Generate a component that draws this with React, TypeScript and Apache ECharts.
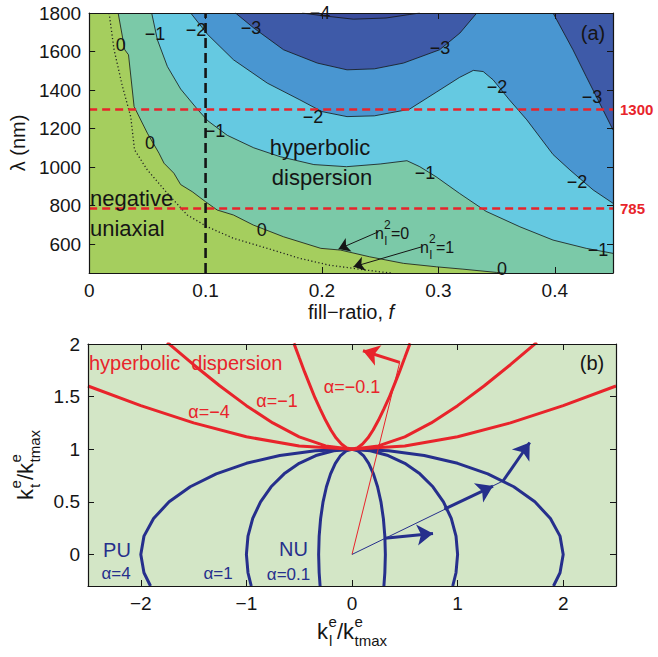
import { useEffect, useRef } from "react";
import * as echarts from "echarts";

const FONT = "'Liberation Sans', Arial, Helvetica, sans-serif";

// ---------- panel (a) ----------
const fillTicks = [0, 0.1, 0.2, 0.3, 0.4];
const lambdaTicks = [600, 800, 1000, 1200, 1400, 1600, 1800];
const markedLambdas = [1300, 785];
const markedFill = 0.1;

// contour lines [fill-ratio, lambda (nm)]
const contour0 = [[0.0249,1800],[0.0306,1609],[0.0338,1583],[0.0386,1314],[0.050,1176],[0.060,1072],[0.0643,1020],[0.0728,968],[0.0786,909],[0.0886,872],[0.100,820],[0.110,777],[0.124,751],[0.141,699],[0.167,638],[0.199,578],[0.216,569],[0.241,534],[0.270,500],[0.2985,482],[0.321,470],[0.350,453],[0.356,450]];
const contourN1 = [[0.0537,1800],[0.0586,1661],[0.0672,1522],[0.0786,1405],[0.093,1300],[0.102,1240],[0.1186,1165],[0.1414,1100],[0.164,1054],[0.193,1013],[0.221,1002],[0.25,1016],[0.273,1033],[0.284,1002],[0.298,950],[0.318,864],[0.341,770],[0.37,690],[0.3985,621],[0.427,578],[0.45,552]];
const contourN2 = [[0.0872,1800],[0.1015,1690],[0.124,1557],[0.153,1436],[0.181,1349],[0.2,1288],[0.2215,1262],[0.245,1266],[0.275,1300],[0.2985,1390],[0.318,1465],[0.33,1502],[0.3385,1496],[0.347,1453],[0.361,1349],[0.376,1245],[0.3985,1065],[0.413,985],[0.433,881],[0.45,812]];
const contourN3a = [[0.1257,1800],[0.1414,1722],[0.167,1609],[0.196,1540],[0.2215,1505],[0.245,1510],[0.27,1540],[0.301,1609],[0.3185,1696],[0.333,1800]];
const contourN3b = [[0.3985,1800],[0.4156,1609],[0.427,1470],[0.4385,1332],[0.45,1193]];
const contourN4 = [[0.183,1800],[0.2,1786],[0.227,1768],[0.255,1774],[0.275,1792],[0.284,1800]];
const indexOneLine = [[0.0171,1800],[0.0214,1609],[0.0286,1418],[0.0357,1262],[0.039,1089],[0.050,985],[0.0672,864],[0.0843,751],[0.1015,690],[0.124,630],[0.153,578],[0.181,526],[0.206,491],[0.227,474],[0.25,456],[0.26,450]];
const arrowN0 = [[0.2485,664],[0.2142,574]];
const arrowN1 = [[0.2857,586],[0.227,482]];

// ---------- panel (b) ----------
const klTicks = [-2, -1, 0, 1, 2];
const ktTicks = [0, 0.5, 1, 1.5, 2];
const ellipseA4 = [[1.908,-0.3],[1.970,-0.174],[2,0],[1.970,0.174],[1.879,0.342],[1.732,0.5],[1.532,0.643],[1.286,0.766],[1.0,0.866],[0.684,0.940],[0.347,0.985],[0,1],[-0.347,0.985],[-0.684,0.940],[-1.0,0.866],[-1.286,0.766],[-1.532,0.643],[-1.732,0.5],[-1.879,0.342],[-1.970,0.174],[-2,0],[-1.970,-0.174],[-1.908,-0.3]];
const ellipseA1 = [[0.954,-0.3],[0.985,-0.174],[1,0],[0.985,0.174],[0.940,0.342],[0.866,0.5],[0.766,0.643],[0.643,0.766],[0.5,0.866],[0.342,0.940],[0.174,0.985],[0,1],[-0.174,0.985],[-0.342,0.940],[-0.5,0.866],[-0.643,0.766],[-0.766,0.643],[-0.866,0.5],[-0.940,0.342],[-0.985,0.174],[-1,0],[-0.985,-0.174],[-0.954,-0.3]];
const ellipseA01 = [[0.302,-0.3],[0.311,-0.174],[0.316,0],[0.311,0.174],[0.297,0.342],[0.274,0.5],[0.242,0.643],[0.203,0.766],[0.158,0.866],[0.108,0.940],[0.055,0.985],[0,1],[-0.055,0.985],[-0.108,0.940],[-0.158,0.866],[-0.203,0.766],[-0.242,0.643],[-0.274,0.5],[-0.297,0.342],[-0.311,0.174],[-0.316,0],[-0.311,-0.174],[-0.302,-0.3]];
const hyperM01 = [[-0.55,2.006],[-0.5,1.871],[-0.45,1.737],[-0.4,1.612],[-0.35,1.487],[-0.3,1.378],[-0.25,1.275],[-0.2,1.183],[-0.15,1.106],[-0.1,1.049],[-0.05,1.012],[0,1],[0.05,1.012],[0.1,1.049],[0.15,1.106],[0.2,1.183],[0.25,1.275],[0.3,1.378],[0.35,1.487],[0.4,1.612],[0.45,1.737],[0.5,1.871],[0.55,2.006]];
const hyperM1 = [[-1.75,2.016],[-1.5,1.803],[-1.25,1.601],[-1,1.414],[-0.75,1.25],[-0.5,1.118],[-0.25,1.031],[0,1],[0.25,1.031],[0.5,1.118],[0.75,1.25],[1,1.414],[1.25,1.601],[1.5,1.803],[1.75,2.016]];
const hyperM4 = [[-2.5,1.601],[-2,1.414],[-1.5,1.25],[-1,1.118],[-0.5,1.031],[0,1],[0.5,1.031],[1,1.118],[1.5,1.25],[2,1.414],[2.5,1.601]];
const redRay = [[0,0],[0.452,1.826]];
const blueRay = [[0,0],[1.43,0.698]];
const redArrows = [[[0.452,1.826],[0.104,1.936]]];
const blueArrows = [[[0.31,0.154],[0.767,0.2]],[[0.875,0.43],[1.335,0.65]],[[1.43,0.698],[1.683,1.064]]];

const RED = "#e8242b";
const BLUE = "#262f8c";
const INK = "#151515";

const axisBase = (extra: any) => ({
  type: "value",
  z: 10,
  axisLine: { show: true, onZero: false, lineStyle: { color: INK, width: 1.2 } },
  splitLine: { show: false },
  ...extra,
});

const tickSet = (vals: number[], labels: boolean, fmt?: (v: number) => string) => ({
  axisTick: { show: true, inside: true, length: 6, customValues: vals, lineStyle: { color: INK, width: 1 } },
  axisLabel: labels
    ? { show: true, customValues: vals, fontSize: 19, fontFamily: FONT, color: INK, formatter: fmt || ((v: number) => String(v)) }
    : { show: false },
});

const txt = (x: number, y: number, text: string, o: any = {}) => ({
  type: "text", x, y, z: 100, silent: true,
  style: { text, fontSize: 18, fontFamily: FONT, fill: INK, align: "center", verticalAlign: "middle", ...o },
});

const stacked = (x: number, y: number, rotation: number, parts: any[], color = INK) => ({
  type: "group", x, y, rotation, z: 100, silent: true,
  children: parts.map((p) => ({
    type: "text", x: p[1], y: p[2], z: 100,
    style: { text: p[0], fontSize: p[3], fontFamily: FONT, fill: color, align: "left", verticalAlign: "middle" },
  })),
});

export default function App() {
  const ref = useRef<HTMLDivElement>(null);
  useEffect(() => {
    if (!ref.current) return;
    const chart = echarts.init(ref.current, null, { renderer: "svg" });

    const regions = [
      { pts: [...contour0, [0.45, 450], [0.45, 1800]], color: "#7bc9a8" },
      { pts: [...contourN1, [0.45, 1800]], color: "#65c9e1" },
      { pts: [...contourN2, [0.45, 1800]], color: "#4996d1" },
      { pts: contourN3a, color: "#3e5aa8" },
      { pts: [...contourN3b, [0.45, 1800]], color: "#3e5aa8" },
      { pts: contourN4, color: "#3a4c9c" },
    ];

    const contourLine = (d: number[][]) => ({
      type: "line", xAxisIndex: 0, yAxisIndex: 0, data: d, showSymbol: false, symbol: "none", silent: true,
      lineStyle: { color: INK, width: 0.8 }, z: 3,
    });
    const curve = (d: number[][], color: string) => ({
      type: "line", xAxisIndex: 2, yAxisIndex: 2, data: d, showSymbol: false, symbol: "none", silent: true,
      lineStyle: { color, width: 3 }, z: 3,
    });
    const thin = (d: number[][], color: string) => ({
      type: "line", xAxisIndex: 2, yAxisIndex: 2, data: d, showSymbol: false, symbol: "none", silent: true,
      lineStyle: { color, width: 1 }, z: 4,
    });
    const arrows = (list: number[][][], color: string, width: number, size: number, xi: number, yi: number) => ({
      type: "lines", coordinateSystem: "cartesian2d", xAxisIndex: xi, yAxisIndex: yi, silent: true, z: 5,
      symbol: ["none", "arrow"], symbolSize: size,
      lineStyle: { color, width, opacity: 1, curveness: 0 },
      data: list.map((c) => ({ coords: c })),
    });

    const option: any = {
      animation: false,
      grid: [
        { left: 88, top: 13, width: 525, height: 260, show: true, backgroundColor: "#a5ce5e", borderWidth: 0 },
        { left: 88, top: 344, width: 528, height: 242, show: true, backgroundColor: "#d3e6c6", borderWidth: 0 },
      ],
      xAxis: [
        axisBase({
          gridIndex: 0, min: 0, max: 0.45, position: "bottom",
          ...tickSet(fillTicks, true),
          name: "fill\u2212ratio, {i|f}", nameLocation: "middle", nameGap: 29,
          nameTextStyle: { fontSize: 20, fontFamily: FONT, color: INK, rich: { i: { fontSize: 20, fontFamily: FONT, fontStyle: "italic", color: INK } } },
        }),
        axisBase({ gridIndex: 0, min: 0, max: 0.45, position: "top", ...tickSet(fillTicks, false) }),
        axisBase({
          gridIndex: 1, min: -2.5, max: 2.5, position: "bottom",
          ...tickSet(klTicks, true, (v: number) => String(v).replace("-", "\u2212")),
        }),
        axisBase({ gridIndex: 1, min: -2.5, max: 2.5, position: "top", ...tickSet(klTicks, false) }),
      ],
      yAxis: [
        axisBase({
          gridIndex: 0, min: 450, max: 1800, position: "left",
          ...tickSet(lambdaTicks, true),
          name: "\u03bb (nm)", nameLocation: "middle", nameGap: 56,
          nameTextStyle: { fontSize: 20, fontFamily: FONT, color: INK },
        }),
        axisBase({ gridIndex: 0, min: 450, max: 1800, position: "right", ...tickSet(lambdaTicks, false) }),
        axisBase({ gridIndex: 1, min: -0.3, max: 2, position: "left", ...tickSet(ktTicks, true) }),
        axisBase({ gridIndex: 1, min: -0.3, max: 2, position: "right", ...tickSet(ktTicks, false) }),
      ],
      series: [
        {
          type: "custom", xAxisIndex: 0, yAxisIndex: 0, silent: true, clip: true, z: 2,
          data: regions.map((_, i) => [i]),
          renderItem: (params: any, api: any) => {
            const r = regions[params.dataIndex];
            return { type: "polygon", shape: { points: r.pts.map((p) => api.coord(p)) }, style: { fill: r.color, stroke: "none" } };
          },
        },
        contourLine(contour0),
        contourLine(contourN1),
        contourLine(contourN2),
        contourLine(contourN3a),
        contourLine(contourN3b),
        contourLine(contourN4),
        {
          type: "line", xAxisIndex: 0, yAxisIndex: 0, data: indexOneLine, showSymbol: false, symbol: "none", silent: true,
          lineStyle: { color: "#222", width: 1.3, type: [1.2, 2.4] }, z: 3,
        },
        {
          type: "line", xAxisIndex: 0, yAxisIndex: 0, silent: true, z: 6, showSymbol: false, symbol: "none",
          data: [[markedFill, 450], [markedFill, 1800]],
          lineStyle: { color: INK, width: 2.6, type: [10, 5] },
          markLine: {
            silent: true, symbol: ["none", "none"],
            lineStyle: { color: RED, width: 2.6, type: [8, 5] },
            label: {
              position: "end", distance: 7, formatter: (p: any) => String(p.value),
              color: RED, fontWeight: "bold", fontSize: 15, fontFamily: FONT,
            },
            data: markedLambdas.map((v) => ({ yAxis: v })),
          },
        },
        arrows([arrowN0, arrowN1], INK, 1, 11, 0, 0),
        curve(ellipseA4, BLUE),
        curve(ellipseA1, BLUE),
        curve(ellipseA01, BLUE),
        curve(hyperM4, RED),
        curve(hyperM1, RED),
        curve(hyperM01, RED),
        thin(redRay, RED),
        thin(blueRay, BLUE),
        arrows(redArrows, RED, 3, 16, 2, 2),
        arrows(blueArrows, BLUE, 3, 16, 2, 2),
      ],
      graphic: [
        // panel (a) contour labels
        txt(120.7, 45, "0"),
        txt(155, 34, "\u22121"),
        txt(196, 30, "\u22122"),
        txt(251, 28, "\u22123"),
        txt(320, 13, "\u22124"),
        txt(150, 143, "0"),
        txt(215, 131, "\u22121"),
        txt(261.7, 230, "0"),
        txt(313, 117, "\u22122"),
        txt(425, 173, "\u22121"),
        txt(440, 48, "\u22123"),
        txt(497, 87, "\u22122"),
        txt(592, 97, "\u22123"),
        txt(577, 182, "\u22122"),
        txt(598, 250, "\u22121"),
        txt(502, 269, "0"),
        txt(593, 33, "(a)", { fontSize: 20 }),
        txt(320, 147, "hyperbolic", { fontSize: 22 }),
        txt(322, 177, "dispersion", { fontSize: 22 }),
        txt(90, 198, "negative", { fontSize: 22, align: "left" }),
        txt(90, 228, "uniaxial", { fontSize: 22, align: "left" }),
        stacked(375, 233, 0, [["n", 0, 0, 16], ["2", 9, -8, 12], ["l", 9.5, 8, 12], ["=0", 16, 0, 16]]),
        stacked(420, 247, 0, [["n", 0, 0, 16], ["2", 9, -8, 12], ["l", 9.5, 8, 12], ["=1", 16, 0, 16]]),
        // panel (b)
        txt(89, 363, "hyperbolic  dispersion", { fontSize: 20, align: "left", fill: RED }),
        txt(209, 412, "\u03b1=\u22124", { fill: RED }),
        txt(277, 401, "\u03b1=\u22121", { fill: RED }),
        txt(352, 387, "\u03b1=\u22120.1", { fill: RED }),
        txt(117, 550, "PU", { fontSize: 20, fill: BLUE }),
        txt(116, 573, "\u03b1=4", { fontSize: 17, fill: BLUE }),
        txt(218, 573, "\u03b1=1", { fontSize: 17, fill: BLUE }),
        txt(293.5, 549, "NU", { fontSize: 20, fill: BLUE }),
        txt(288.5, 574, "\u03b1=0.1", { fontSize: 17, fill: BLUE }),
        txt(592, 363, "(b)", { fontSize: 20 }),
        stacked(317, 631, 0, [["k", 0, 0, 22], ["e", 11.5, -10, 15], ["l", 12, 9, 15], ["/k", 20, 0, 22], ["e", 37.5, -10, 15], ["tmax", 37.5, 9, 15]]),
        stacked(25, 500, Math.PI / 2, [["k", 0, 0, 22], ["e", 11.5, -10, 15], ["t", 12, 9, 15], ["/k", 20, 0, 22], ["e", 37.5, -10, 15], ["tmax", 37.5, 9, 15]]),
      ],
    };
    chart.setOption(option);
    return () => chart.dispose();
  }, []);
  return (
    <div
      ref={ref}
      style={{ position: "fixed", left: 0, top: 0, width: 658, height: 657, background: "#fff" }}
    />
  );
}
